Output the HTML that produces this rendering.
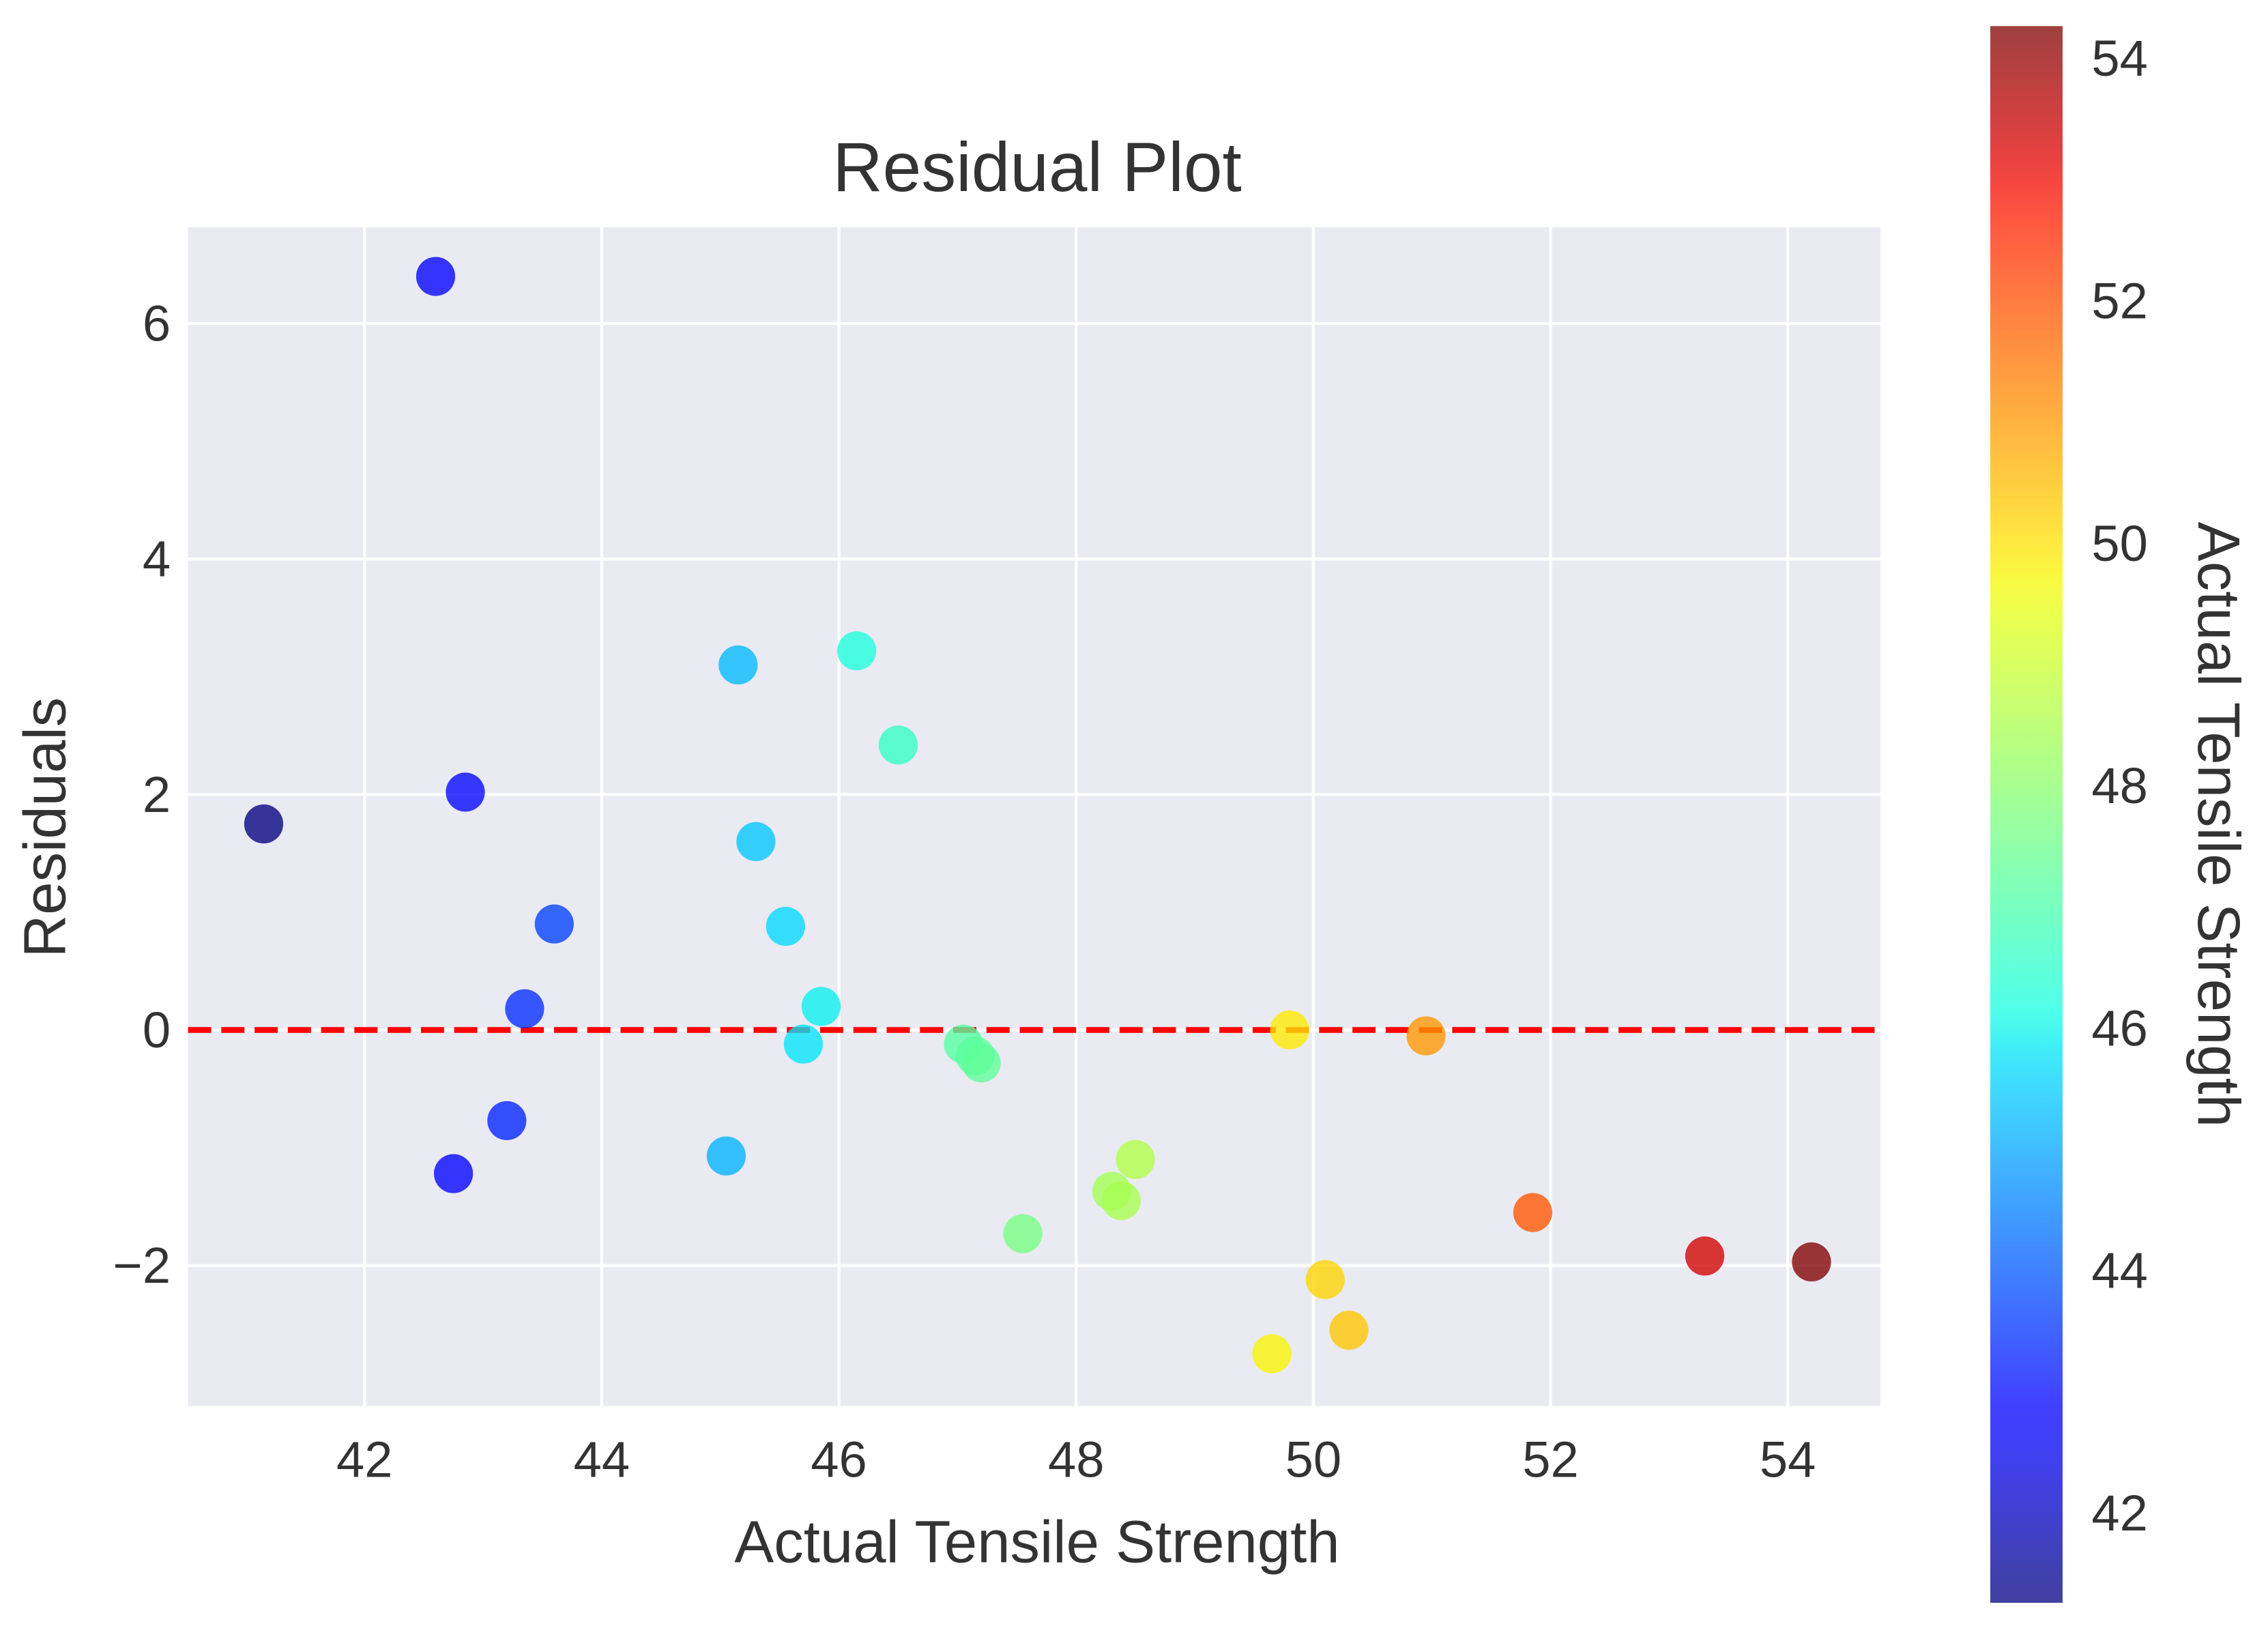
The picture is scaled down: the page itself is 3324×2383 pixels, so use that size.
<!DOCTYPE html>
<html><head><meta charset="utf-8"><style>html,body{margin:0;padding:0;background:#fff}svg{display:block}text{font-family:"Liberation Sans",sans-serif;fill:#333}</style></head>
<body>
<svg id="chart" width="3324" height="2383" viewBox="0 0 1568 1124" xmlns="http://www.w3.org/2000/svg">
<defs><linearGradient id="jetgrad" x1="0" y1="1" x2="0" y2="0"></linearGradient></defs>
<g id="plot"></g>
</svg>
<script>
const xVals=[42.6,41.15,42.85,43.6,43.35,43.2,42.75,45.15,46.15,46.5,45.3,45.55,45.85,45.7,45.05,47.05,47.15,47.2,47.55,48.3,48.38,48.5,49.8,50.95,49.65,50.1,50.3,51.85,53.3,54.2];
const residuals=[6.4,1.75,2.02,0.9,0.18,-0.77,-1.22,3.1,3.22,2.42,1.6,0.88,0.2,-0.12,-1.07,-0.12,-0.22,-0.28,-1.73,-1.37,-1.45,-1.1,0.0,-0.05,-2.75,-2.12,-2.55,-1.55,-1.92,-1.97];
const xTicks=[42,44,46,48,50,52,54];
const yTicks=[-2,0,2,4,6];
const cTicks=[42,44,46,48,50,52,54];
const NS="http://www.w3.org/2000/svg";
const g=document.getElementById('plot');
const L=130,R=1300,T=157,B=972;
const sx=v=>252+(v-42)*82, sy=v=>712-v*81.4;
const cmin=Math.min(...xVals),cmax=Math.max(...xVals);
const cbT=18,cbB=1108,cbL=1376,cbR=1426;
const cy=v=>1046-(v-42)*83.8;
function interp(pts,t){for(let i=1;i<pts.length;i++){if(t<=pts[i][0]){const a=pts[i-1],b=pts[i];return a[1]+(b[1]-a[1])*(t-a[0])/(b[0]-a[0]);}}return pts[pts.length-1][1];}
const RS=[[0,0],[0.35,0],[0.66,1],[0.89,1],[1,0.5]];
const GS=[[0,0],[0.125,0],[0.375,1],[0.64,1],[0.91,0],[1,0]];
const BS=[[0,0.5],[0.11,1],[0.34,1],[0.65,0],[1,0]];
function jet(t){const c=v=>Math.round(255*v);return `rgb(${c(interp(RS,t))},${c(interp(GS,t))},${c(interp(BS,t))})`;}
function el(tag,a,p){const e=document.createElementNS(NS,tag);for(const k in a)e.setAttribute(k,a[k]);(p||g).appendChild(e);return e;}
let e=el('rect',{x:L,y:T,width:R-L,height:B-T,fill:'#eaeaf2'});


xTicks.forEach(v=>{let l=el('line',{x1:sx(v),x2:sx(v),y1:T,y2:B,stroke:'#fff','stroke-width':2});


let t=el('text',{x:sx(v),y:1021,'font-size':35,'text-anchor':'middle'});t.textContent=v;

});
yTicks.forEach(v=>{let l=el('line',{x1:L,x2:R,y1:sy(v),y2:sy(v),stroke:'#fff','stroke-width':2});


let t=el('text',{x:118,y:sy(v)+12,'font-size':35,'text-anchor':'end'});t.textContent=v===-2?'\u22122':v;

});
e=el('line',{x1:L,x2:R,y1:sy(0),y2:sy(0),stroke:'#f00','stroke-width':4,'stroke-dasharray':'16 7'});


xVals.forEach((v,i)=>{let c=el('circle',{cx:sx(v),cy:sy(residuals[i]),r:13.5,fill:jet((v-cmin)/(cmax-cmin)),'fill-opacity':0.78});

});
e=el('text',{x:717,y:132,'font-size':48,'text-anchor':'middle'});e.textContent='Residual Plot';


e=el('text',{x:717,y:1080,'font-size':41,'text-anchor':'middle'});e.textContent='Actual Tensile Strength';


e=el('text',{x:0,y:0,'font-size':41,'text-anchor':'middle',transform:'translate(45,572) rotate(-90)'});e.textContent='Residuals';


const grad=document.getElementById('jetgrad');
for(let i=0;i<=40;i++){const s=document.createElementNS(NS,'stop');s.setAttribute('offset',i/40);s.setAttribute('stop-color',jet(i/40));grad.appendChild(s);}
e=el('rect',{x:cbL,y:cbT,width:cbR-cbL,height:cbB-cbT,fill:'url(#jetgrad)','fill-opacity':0.75});


cTicks.forEach(v=>{let t=el('text',{x:1446,y:cy(v)+12,'font-size':35});t.textContent=v;

});
e=el('text',{x:0,y:0,'font-size':41,'text-anchor':'middle',transform:'translate(1520,570) rotate(90)'});e.textContent='Actual Tensile Strength';


</script>
</body></html>
